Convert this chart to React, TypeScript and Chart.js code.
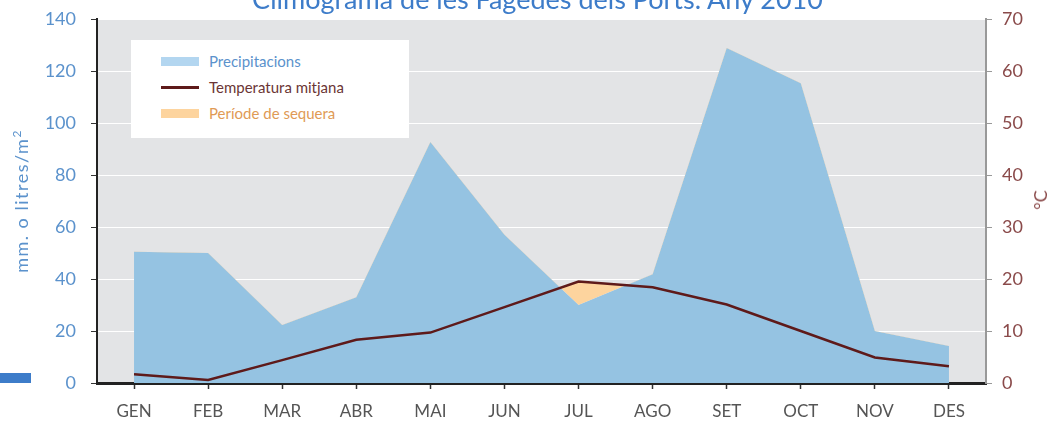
import React, { useEffect, useRef } from "react";
import { Chart, registerables } from "chart.js";
Chart.register(...registerables);

const months = ["GEN", "FEB", "MAR", "ABR", "MAI", "JUN", "JUL", "AGO", "SET", "OCT", "NOV", "DES"];
const precipitation = [50.5, 50, 22.3, 33, 92.7, 57, 30, 41.8, 128.8, 115.3, 20, 14.2];
const temperature = [1.7, 0.6, 4.4, 8.3, 9.7, 14.6, 19.5, 18.4, 15.1, 10, 4.9, 3.2];
const precipMax = 140;
const tempMax = 70;
const tickStepPrecip = 20;
const tickStepTemp = 10;

const titleText = "Climograma de les Fagedes dels Ports. Any 2010";
const legendItems = ["Precipitacions", "Temperatura mitjana", "Període de sequera"];

const FONT = "Lato, 'Open Sans', sans-serif";
const C_BLUE_TXT = "#5b92cc";
const C_BROWN_TXT = "#8a4a4a";
const C_PRECIP = "#95c3e2";
const C_TEMP = "#5e1a1a";
const C_DRY = "#fdd49e";
const C_BG = "#e3e4e6";

const bgPlugin = {
  id: "plotBg",
  beforeDraw(chart: any) {
    const { ctx, chartArea } = chart;
    ctx.save();
    ctx.fillStyle = C_BG;
    ctx.fillRect(chartArea.left, chartArea.top, chartArea.right - chartArea.left, chartArea.bottom - chartArea.top);
    ctx.restore();
  },
};

export default function App() {
  const ref = useRef<HTMLCanvasElement | null>(null);
  useEffect(() => {
    if (!ref.current) return;
    const chart = new Chart(ref.current, {
      type: "line",
      data: {
        labels: months,
        datasets: [
          {
            label: legendItems[1],
            data: temperature,
            yAxisID: "y1",
            borderColor: C_TEMP,
            borderWidth: 2.5,
            pointRadius: 0,
            tension: 0,
            fill: { target: 1, above: C_DRY, below: "rgba(0,0,0,0)" },
          },
          {
            label: legendItems[0],
            data: precipitation,
            yAxisID: "y",
            borderWidth: 0,
            borderColor: C_PRECIP,
            backgroundColor: C_PRECIP,
            pointRadius: 0,
            tension: 0,
            fill: "origin",
          },
        ],
      },
      options: {
        animation: false,
        responsive: false,
        maintainAspectRatio: false,
        layout: { padding: { top: 19, left: 0, right: 0, bottom: 0 } },
        plugins: { legend: { display: false }, title: { display: false }, tooltip: { enabled: false } },
        scales: {
          x: {
            offset: true,
            grid: { offset: false, drawOnChartArea: false, tickColor: "#333", tickLength: 6, tickWidth: 1.5 },
            border: { color: "#222", width: 3 },
            ticks: { color: "#555", font: { family: FONT, size: 17 }, padding: 12 },
            afterFit: (s: any) => { s.height = 38; },
          },
          y: {
            position: "left",
            min: 0,
            max: precipMax,
            ticks: { stepSize: tickStepPrecip, color: C_BLUE_TXT, font: { family: FONT, size: 18 }, padding: 15 },
            grid: { color: "#ffffff", lineWidth: 1, tickColor: "#333", tickLength: 6 },
            border: { color: "#222", width: 2 },
            afterFit: (s: any) => { s.width = 97; s.paddingTop = 0; s.paddingBottom = 0; },
          },
          y1: {
            position: "right",
            min: 0,
            max: tempMax,
            ticks: { stepSize: tickStepTemp, color: C_BROWN_TXT, font: { family: FONT, size: 18 }, padding: 10 },
            grid: { drawOnChartArea: false, tickColor: "#999", tickLength: 6 },
            border: { color: "#999", width: 2 },
            afterFit: (s: any) => { s.width = 62; s.paddingTop = 0; s.paddingBottom = 0; },
          },
        },
      },
      plugins: [bgPlugin],
    });
    return () => chart.destroy();
  }, []);

  const legendColors = [C_BLUE_TXT, "#6b3535", "#e09a55"];
  return (
    <div style={{ position: "fixed", left: 0, top: 0, width: 1048, height: 421, overflow: "hidden", background: "#fff", fontFamily: FONT }}>
      <canvas ref={ref} width={1048} height={421} style={{ position: "absolute", left: 0, top: 0 }} />
      <div style={{ position: "absolute", left: 0, width: 1075, top: -14, textAlign: "center", fontSize: 27, lineHeight: "26px", color: "#3d7cc9", whiteSpace: "nowrap" }}>
        {titleText}
      </div>
      <div style={{ position: "absolute", top: 201, left: 20, transform: "translate(-50%,-50%) rotate(-90deg)", transformOrigin: "center", fontSize: 18, letterSpacing: 1.5, color: C_BLUE_TXT, whiteSpace: "nowrap" }}>
        mm. o litres/m<sup style={{ fontSize: 12 }}>2</sup>
      </div>
      <div style={{ position: "absolute", left: 1040, top: 200, transform: "translate(-50%,-50%) rotate(-90deg)", fontSize: 18, color: C_BROWN_TXT, whiteSpace: "nowrap" }}>
        °C
      </div>
      <div style={{ position: "absolute", left: 0, top: 373, width: 31, height: 10, background: "#3d7cc9" }} />
      <div style={{ position: "absolute", left: 131, top: 40, width: 278, height: 98, background: "#fff" }}>
        {[C_PRECIP, C_TEMP, C_DRY].map((c, i) => (
          <div key={i} style={{ position: "absolute", left: 30, top: 14 + i * 26, height: 14, display: "flex", alignItems: "center" }}>
            <div style={{ width: 38, height: i === 1 ? 3 : 9, background: i === 0 ? "#b3d6f0" : c }} />
            <span style={{ marginLeft: 10, fontSize: 15, color: legendColors[i], whiteSpace: "nowrap" }}>{legendItems[i]}</span>
          </div>
        ))}
      </div>
    </div>
  );
}
